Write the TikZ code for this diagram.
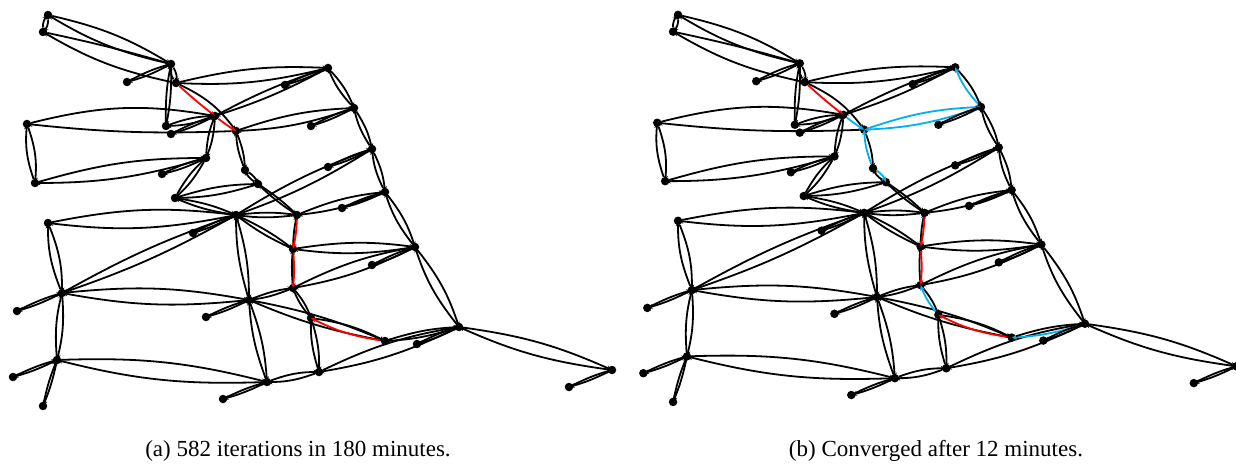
\documentclass[tikz,border=0pt]{standalone}
\usepackage{fontspec}
\setmainfont{Liberation Serif}
\usetikzlibrary{arrows.meta}
\definecolor{skyb}{RGB}{0,176,240}
\tikzset{
  vtx/.style={circle,fill=black,inner sep=0pt,minimum size=8.5pt},
  earc/.style={line width=1.8pt,draw=black,-{Stealth[length=5.5pt,width=4.6pt]}},
  pr/.style={draw=red},
  captext/.style={font=\fontsize{23}{27}\selectfont,anchor=base,inner sep=0pt},
}
\newcommand{\lens}[3]{\draw[earc] (#1) to[bend left=#3] (#2);\draw[earc] (#2) to[bend left=#3] (#1);}
\newcommand{\lensc}[5]{\draw[earc,#4] (#1) to[bend left=#3] (#2);\draw[earc,#5] (#2) to[bend left=#3] (#1);}
\newcommand{\drawgraph}{%
  \node[vtx] (A1) at (48,15) {};
  \node[vtx] (A2) at (43,32) {};
  \node[vtx] (B) at (171,64) {};
  \node[vtx] (C) at (127,82) {};
  \node[vtx] (D) at (176,83) {};
  \node[vtx] (E) at (285,85) {};
  \node[vtx] (R) at (328,68) {};
  \node[vtx] (F) at (215,116) {};
  \node[vtx] (G) at (166,126) {};
  \node[vtx] (H) at (171,134) {};
  \node[vtx] (I) at (27,124) {};
  \node[vtx] (J) at (236,131) {};
  \node[vtx] (S) at (354,108) {};
  \node[vtx] (T) at (311,126) {};
  \node[vtx] (K) at (206,158) {};
  \node[vtx] (L) at (162,174) {};
  \node[vtx] (M) at (35,183) {};
  \node[vtx] (N) at (245,170) {};
  \node[vtx] (O) at (258,184) {};
  \node[vtx] (U) at (372,149) {};
  \node[vtx] (V) at (328,167) {};
  \node[vtx] (P) at (175,198) {};
  \node[vtx] (W) at (385,192) {};
  \node[vtx] (X) at (342,208) {};
  \node[vtx] (BB) at (236,215) {};
  \node[vtx] (Y) at (297,215) {};
  \node[vtx] (CC) at (48,223) {};
  \node[vtx] (DD) at (193,233) {};
  \node[vtx] (Z) at (293,249) {};
  \node[vtx] (AA) at (415,247) {};
  \node[vtx] (AB) at (372,265) {};
  \node[vtx] (AC) at (293,288) {};
  \node[vtx] (EE) at (62,293) {};
  \node[vtx] (FF) at (249,300) {};
  \node[vtx] (GG) at (17,311) {};
  \node[vtx] (HH) at (206,317) {};
  \node[vtx] (AD) at (311,318) {};
  \node[vtx] (AE) at (385,341) {};
  \node[vtx] (AF) at (417,344) {};
  \node[vtx] (AG) at (459,327) {};
  \node[vtx] (II) at (57,360) {};
  \node[vtx] (JJ) at (13,377) {};
  \node[vtx] (KK) at (43,406) {};
  \node[vtx] (LL) at (267,382) {};
  \node[vtx] (MM) at (223,399) {};
  \node[vtx] (AH) at (319,372) {};
  \node[vtx] (AI) at (612,370) {};
  \node[vtx] (AJ) at (569,387) {};
  % top left
  \lens{A1}{A2}{20}
  \lens{A1}{B}{9}
  \draw[earc] (A2) to[bend left=2] (B);
  \draw[earc] (D) to[bend left=9] (A2);
  \lens{C}{B}{6}
  \lens{B}{D}{20}
  \lens{B}{G}{6}
  \draw[earc] (D) to[bend left=14] (J);
  \draw[earc,pr] (D) to[bend right=2] (F);
  \draw[earc,pFJ] (F) to[bend right=3] (J);
  \lens{D}{R}{8}
  \lens{E}{R}{5}
  \lens{F}{R}{5}
  \draw[earc] (I) to[bend left=12] (F);
  \draw[earc] (J) to[bend left=4] (I);
  \lens{G}{F}{9}
  \lens{H}{F}{5}
  \lens{F}{K}{9}
  \lensc{J}{S}{8}{pJS}{pJS}
  \lens{T}{S}{5}
  \lensc{R}{S}{10}{black}{pRS}
  \lens{S}{U}{10}
  \lens{U}{W}{10}
  \lens{W}{AA}{10}
  \lens{AA}{AG}{10}
  \lensc{J}{N}{9}{black}{pJN}
  \lensc{N}{O}{16}{pNO}{black}
  \lens{K}{M}{8}
  \lens{L}{K}{6}
  \lens{I}{M}{12}
  \lens{K}{P}{9}
  \lens{P}{O}{8}
  \lens{P}{BB}{7}
  \lens{O}{Y}{5}
  \lens{BB}{U}{6}
  \lens{V}{U}{5}
  \lens{BB}{Y}{7}
  \lens{Y}{W}{8}
  \lens{X}{W}{5}
  \draw[earc] (Z) to[bend left=5] (Y);
  \draw[earc,pr] (Y) to[bend left=5] (Z);
  \draw[earc] (AC) to[bend left=5] (Z);
  \draw[earc,pr] (Z) to[bend left=5] (AC);
  \lens{BB}{Z}{6}
  \lens{Z}{AA}{8}
  \lens{AC}{AA}{8}
  \lens{AB}{AA}{5}
  \lens{BB}{FF}{8}
  \lens{FF}{AC}{7}
  \lens{HH}{FF}{5}
  \lens{FF}{AE}{6}
  \lensc{AC}{AD}{9}{black}{pACAD}
  \lens{AD}{AH}{9}
  \lensc{AE}{AD}{9}{pr}{black}
  \lens{FF}{LL}{8}
  \lens{LL}{AH}{10}
  \lens{AH}{AG}{8}
  \lensc{AG}{AE}{7}{pAEAG}{black}
  \lens{AF}{AG}{5}
  \lens{AG}{AI}{8}
  \lens{AJ}{AI}{5}
  \lens{II}{LL}{8}
  \lens{MM}{LL}{5}
  \lens{EE}{FF}{8}
  \lens{EE}{BB}{5}
  \lens{CC}{BB}{9}
  \lens{CC}{EE}{11}
  \lens{GG}{EE}{5}
  \lens{EE}{II}{9}
  \lens{JJ}{II}{5}
  \lens{KK}{II}{5}
  \lens{DD}{BB}{5}
}
\begin{document}
\begin{tikzpicture}[x=1pt,y=-1pt]
\useasboundingbox[fill=white] (0,0) rectangle (1236,465);
\begin{scope}[name prefix=a-,
  pFJ/.style={draw=red},pJS/.style={},pRS/.style={},pJN/.style={},
  pNO/.style={},pACAD/.style={},pAEAG/.style={}]
  \drawgraph
\end{scope}
\begin{scope}[name prefix=b-,shift={(630.5pt,0pt)},scale=0.99,
  pFJ/.style={draw=skyb},pJS/.style={draw=skyb},pRS/.style={draw=skyb},pJN/.style={draw=skyb},
  pNO/.style={draw=skyb},pACAD/.style={draw=skyb},pAEAG/.style={draw=skyb}]
  \drawgraph
\end{scope}
\node[captext] (capa) at (298,456) {(a) 582 iterations in 180 minutes.};
\node[captext] (capb) at (936,456) {(b) Converged after 12 minutes.};
\end{tikzpicture}
\end{document}
